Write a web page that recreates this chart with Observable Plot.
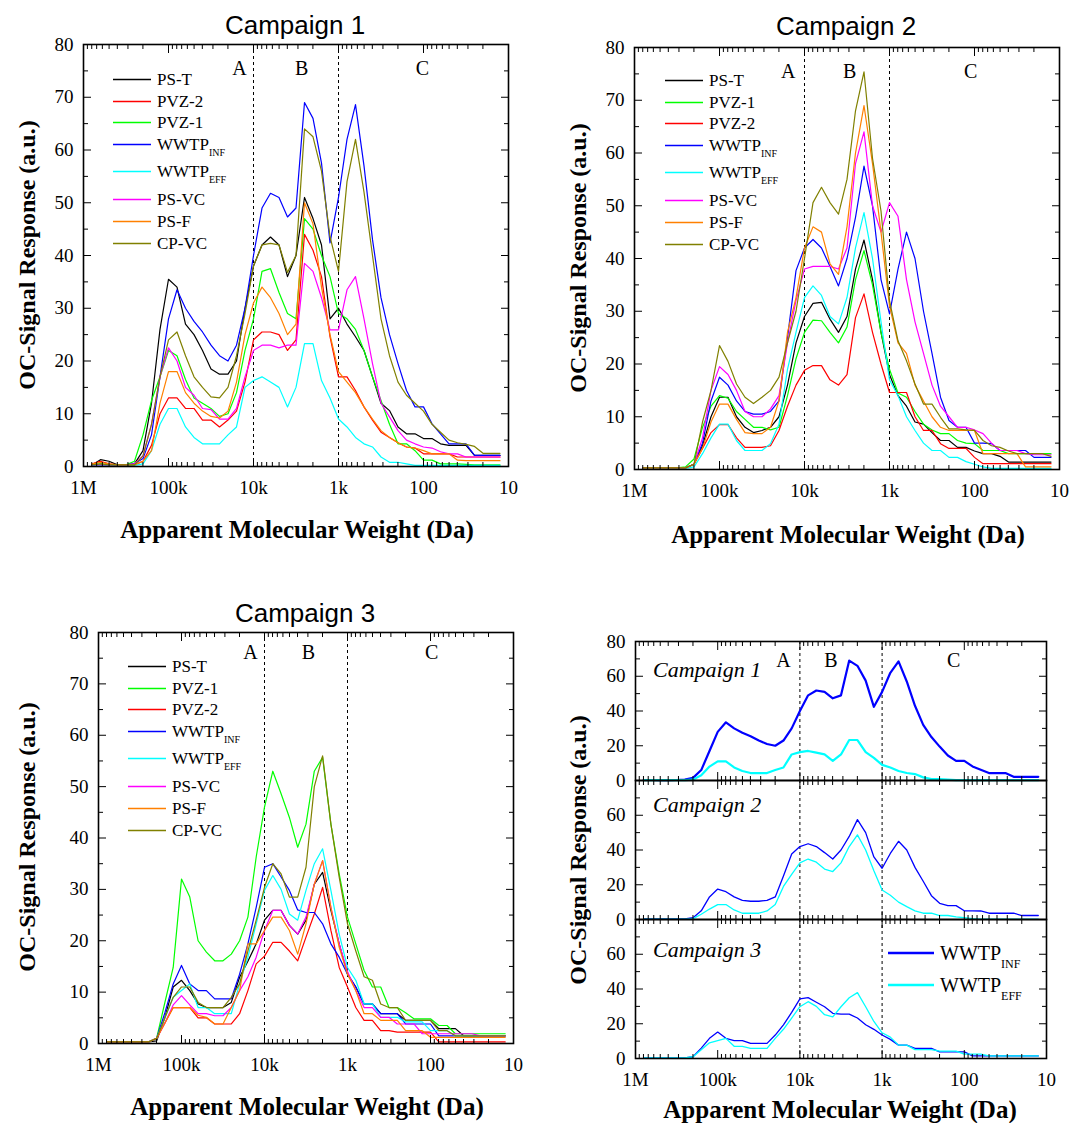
<!DOCTYPE html>
<html><head><meta charset="utf-8">
<script src="https://cdn.jsdelivr.net/npm/d3@7"></script>
<script src="https://cdn.jsdelivr.net/npm/@observablehq/plot@0.6"></script>
<style>
body{margin:0;background:#fff;}
#root{position:relative;width:1073px;height:1123px;overflow:hidden;font-family:"Liberation Serif","Times New Roman",serif;color:#000;background:#fff;}
.abs{position:absolute;}
.ptitle{position:absolute;font-family:"Liberation Sans",Arial,sans-serif;font-size:26px;transform:translate(-50%,-50%);white-space:nowrap;}
.xtitle{position:absolute;font-weight:bold;font-size:25px;transform:translate(-50%,-50%);white-space:nowrap;}
.ytitle{position:absolute;font-weight:bold;font-size:24px;transform:translate(-50%,-50%) rotate(-90deg);white-space:nowrap;}
.lrow{position:absolute;display:flex;align-items:center;white-space:nowrap;transform:translateY(-50%);line-height:1;}
.lrow svg{display:block;}
.sub{position:relative;}
.ital{position:absolute;font-style:italic;font-size:22px;transform:translateY(-50%);white-space:nowrap;}
</style></head><body><div id="root"></div>
<script>
// ---------- sampling grid (log10 of apparent molecular weight, Da) ----------
const logMW = [5.9,5.8,5.7,5.6,5.5,5.4,5.3,5.2,5.1,5.0,4.9,4.8,4.7,4.6,4.5,4.4,4.3,4.2,4.1,4.0,3.9,3.8,3.7,3.6,3.5,3.4,3.3,3.2,3.1,3.0,2.9,2.8,2.7,2.6,2.5,2.4,2.3,2.2,2.1,2.0,1.9,1.8,1.7,1.6,1.5,1.4,1.3,1.2,1.1];

const seriesNames  = ["PS-T","PVZ-2","PVZ-1","WWTP_INF","WWTP_EFF","PS-VC","PS-F","CP-VC"];
const seriesColors = ["#000000","#ff0000","#00ff00","#0000ff","#00ffff","#ff00ff","#ff8000","#808000"];

// ---------- Campaign 1 ----------
const c1_PST  = [0.3,1.3,1.0,0.3,0.3, 0.5,3,12,26,35.5, 34,27,25,22,18.5, 17.5,17.5,20,30,38, 42,43.5,42,36,40, 51,47,42,28,30, 27,24.6,22,17,12, 10.6,7.5,6.2,6.2,5.3, 5.3,4.3,4,4,4, 2.1,2.1,2.1,2.1];
const c1_PVZ2 = [0.5,1.0,0.5,0.3,0.3, 0.3,1,4,10,13, 13,11,11,8.8,8.8, 7.5,8.8,10.5,16,24, 25.5,25.5,25,22,24, 44,41,36,24.6,17, 17,14.4,11.3,8.8,6.5, 5.5,4.5,3.7,3.5,2.4, 2.4,2.4,2.4,1.8,1.8, 1.8,1.8,1.8,1.8];
const c1_PVZ1 = [0.3,0.5,0.3,0.3,0.3, 1,6,12.5,17,22, 21,16.5,13,12,11, 9.5,10,14,22,28, 37,37.5,33,29,28, 47,45,40,36,29, 28,26,22,17,12.5, 8,4.3,4.3,3,1.2, 1.2,0.5,0.5,0.5,0.4, 0.3,0.3,0.3,0.3];
const c1_INF  = [0.3,0.3,0.2,0.2,0.3, 0.5,1.5,6,17,28, 33.5,30,27.5,25.5,23, 21,20,23,30,40, 49,51.8,51,47.3,49, 69,66,57.5,42.4,51, 62,68.6,57,43,32, 25,19.5,14.4,11.3,11.3, 8.1,6.2,4.3,4.3,4.3, 2.1,2.1,2.1,2.1];
const c1_EFF  = [0.2,0.2,0.2,0.2,0.2, 0.2,0.5,3,8,11, 11,7.5,5.5,4.3,4.3, 4.3,6,7.5,15,16.3, 17,16,15,11.3,15, 23.3,23.3,16.3,13,9, 7.5,5.5,4.3,3.7,1.8, 0.8,0.8,0.5,0.2,0.2, 0.2,0.2,0.2,0.2,0.2, 0.2,0.2,0.2,0.2];
const c1_PSVC = [0.3,0.3,0.3,0.3,0.3, 0.5,2,8,17,22.5, 20,15,13.5,11,10.8, 9,9,11,17,22, 23,23,22.5,23,23, 38.5,37,32,25.9,25.9, 33.5,36,28,19.5,12, 9.4,6.8,5,4.3,3.7, 3.5,2.8,2.4,2.4,1.8, 1.8,1.8,1.8,1.8];
const c1_PSF  = [0.5,0.8,0.5,0.3,0.3, 0.3,1,3,12,18, 18,14,12,10.5,9.5, 9.2,10.5,16,25,31, 34,32,29,25,27, 50,46,34,25,18, 16,14,11.3,9,6.8, 5.5,4.5,3.7,3.5,3, 2.4,2.4,2.4,1.2,1.1, 1.1,1.1,1.1,1.1];
const c1_CPVC = [0.3,0.5,0.3,0.3,0.3, 0.3,2,8,17,24, 25.5,21,17,15,13.2, 13,15,21,29,38, 42,42.3,42,36.8,40, 64,62.5,56,43.6,37, 54,62,52,40,28, 21,16,13.5,12,10.5, 8,6.5,5,4.5,4.2, 3.8,2.5,2.5,2.5];

// ---------- Campaign 2 ----------
const c2_PST  = [0.3,0.3,0.3,0.3,0.3, 0.3,1,4.5,10,13.7, 13.7,10,8,7,7.4, 8,10,16,24,29, 31.5,31.7,28.5,26,29, 38,43.5,36,26,18, 14,12,9,8.6,7, 5.5,5.5,4.2,4.2,3.5, 3,3,2.5,1.4,1.4, 1.4,1.4,1.4,1.4];
const c2_PVZ1 = [0.3,0.3,0.3,0.3,0.3, 0.5,2,8,12,14, 13.5,11,9.5,8,8, 7.5,8,14,21,26, 28.3,28.2,26,24,27, 36,41.5,35,26,19, 14.5,13.7,11,8.6,7.5, 6.8,6.8,5.5,5,4.9, 3.6,3.6,3.6,3,3, 3,3,3,3];
const c2_PVZ2 = [0.3,0.3,0.3,0.3,0.3, 0.3,1,4,7,8.5, 8.5,6,4.2,4.2,4.2, 4.5,7.4,12,16,18.8, 19.7,19.7,17,16,18, 28.8,33.3,26,20,14.6, 14.6,14.6,10,7.4,7.4, 4.9,4,4,4,2.3, 1.1,1.1,1.1,1.1,1.1, 1.1,1.1,1.1,1.1];
const c2_INF  = [0.3,0.3,0.3,0.3,0.3, 0.3,1,5,13,17.5, 16,13,11,10.5,10.5, 11,13,25,37.7,42, 43.6,42,38.5,34.8,40, 47.8,57.5,50,36,29.5, 38,45,40,30,22, 13.7,9.3,8,8,5, 5,4.9,3.6,3.6,3.6, 3.6,2.3,2.3,2.3];
const c2_EFF  = [0.2,0.2,0.2,0.2,0.2, 0.2,0.5,3,6,8.6, 8.6,5.5,3.6,3.6,3.6, 4.9,8.6,19,26,32.6, 34.8,33,29,27.6,32.6, 42,48.7,40,28,17, 14,10,7.4,5,3.6, 3.6,2.3,2.3,1.5,1, 0.5,0.2,0.2,0.2,0.2, 0.2,0.2,0.2,0.2];
const c2_PSVC = [0.3,0.3,0.3,0.3,0.3, 0.3,1,6,15,19.5, 18,15,11,10,10, 11.5,14,24,32,38, 38.5,38.5,38.5,38,42, 58,64,50,45,50.6, 48,36,28,22,16, 12,10,8,8,7.5, 6.8,5,3.6,3.6,3.6, 3,2.8,2.8,2.8];
const c2_PSF  = [0.3,0.3,0.3,0.3,0.3, 0.3,1,4,9,12.4, 12.4,9.5,7,6.8,6.8, 8,13,26,32.6,42, 46,45,39,37,46, 60,69,58,45,31, 24,22,16,13,10, 8,7.4,7.4,7.4,7.4, 3,3,3,3,3, 0.5,0.5,0.5,0.5];
const c2_CPVC = [0.3,0.3,0.3,0.3,0.3, 0.3,1,9,15,23.5, 20.5,16.2,13.7,12.5,13.7, 15,17.5,24,30,40, 50.6,53.5,50.6,48.4,55, 68,75.4,59,49,32, 24.4,20.6,16.2,12.4,12.4, 9.9,7.7,7.7,7.5,7.4, 5.5,4.5,4.2,3.5,3, 3,3,3,2.5];

// ---------- Campaign 3 ----------
const c3_PST  = [0.3,0.3,0.3,0.3,0.3, 0.3,0.5,5.1,11,12.3, 10.3,7.7,7,7,7, 8,12.9,16,19.4,24, 25.9,25.9,23,21.3,24, 31,33.3,25.9,19.4,13.5, 11,7.7,7.7,5.8,5.8, 5.8,4.5,4.5,4.5,4.5, 2.9,2.9,2.9,1.5,1.5, 1.5,1.5,1.5,1.5];
const c3_PVZ1 = [0.3,0.3,0.3,0.3,0.3, 0.3,1,8,14.8,32, 28.5,20,17.8,16.1,16.1, 17.4,20,24.6,36.3,46, 53,48.6,44,38.2,42.7, 53,55.7,42.7,33,24.6, 19.4,14.2,11,11,7, 7,6,4.8,4.8,4.8, 3.5,3.5,1.9,1.9,1.9, 1.9,1.9,1.9,1.9];
const c3_PVZ2 = [0.3,0.3,0.3,0.3,0.3, 0.3,1,4,7,7, 7,5,5,3.8,3.8, 3.8,5.8,10.3,15.5,17, 19.7,19.7,18,16.1,20.7, 25.2,30.4,22,14.8,11, 7,4.5,4.5,2.5,2.5, 2.2,2.2,2.2,2.2,2.2, 0.3,0.3,0.3,0.3,0.3, 0.3,0.3,0.3,0.3];
const c3_INF  = [0.3,0.3,0.3,0.3,0.3, 0.3,1,6,11.6,15.2, 11.6,10.3,10.3,8.7,8.7, 8.7,13.5,19.4,26.5,34.3, 35,32.4,29.8,26,25.5, 25.5,23.3,19.4,16.8,13.5, 11,7.7,7.7,5.8,5.8, 5.8,3.8,3.8,3.8,3.8, 1.5,1.5,1.5,1.5,1.5, 1.5,1.5,1.5,1.5];
const c3_EFF  = [0.3,0.3,0.3,0.3,0.3, 0.3,1,5,9,10.3, 11.6,7,7,5.8,5.8, 5.8,11.6,16.8,23.3,29.8, 32.7,30,25.2,24,29.8, 35,37.9,29.8,21.3,14.8, 12.3,7.7,7.7,5.1,5.1, 5.1,4.2,4.2,4.2,2.5, 2.5,2.5,1.5,1.5,1.5, 1.5,1.5,1.5,1.5];
const c3_PSVC = [0.3,0.3,0.3,0.3,0.3, 0.3,1,4,7.5,9.3, 7.5,5.8,5.8,5.4,5.4, 7,10.3,13,16.8,22, 25.9,25.9,23,21.3,24.6, 31,35.6,26.5,19.4,14, 10.3,7,7,5.1,5.1, 3.8,3.8,3.8,1.9,1.9, 1.9,1.9,1.9,1.9,1.9, 1.5,1.5,1.5,1.5];
const c3_PSF  = [0.3,0.3,0.3,0.3,0.3, 0.3,1,4,7,7, 7,5.5,5.1,3.8,3.8, 7,10.3,19.4,19.4,22, 24.6,24.6,22,17.4,23.3, 31,35.6,26.5,18.7,13.5, 10.3,5.8,5.8,4.5,4.5, 4.5,2.5,2.5,2.5,1.2, 1.2,1.2,1.2,1.2,1.2, 1.2,1.2,1.2,1.2];
const c3_CPVC = [0.3,0.3,0.3,0.3,0.3, 0.3,1,5,9,11, 11,8,7,7,7, 9,11.6,18,24,30.4, 35,33,28.5,28.5,34.3, 50,56,42.7,32.4,23.3, 18,13,12.3,7.7,7, 7,4.5,4.5,4.5,4.5, 2.5,2.5,1.5,1.5,1.5, 1.5,1.5,1.5,1.5];

// ---------- axes / annotation values ----------
const xMajor = [1e6, 1e5, 1e4, 1e3, 100, 10];
const xTickLabels = ["1M", "100k", "10k", "1k", "100", "10"];
const xMinor = [];
for (const dec of [1e5, 1e4, 1e3, 100, 10]) for (let k = 2; k <= 9; k++) xMinor.push(k * dec);
const regionBounds = [1e4, 1e3];
const regionLetters = ["A", "B", "C"];
const yMain = [0,10,20,30,40,50,60,70,80];
const yMainMinor = [5,15,25,35,45,55,65,75];
const ySub = [0,20,40,60,80];
const ySubMinor = [10,30,50,70];

const legendOrder1 = ["PS-T","PVZ-2","PVZ-1","WWTP_INF","WWTP_EFF","PS-VC","PS-F","CP-VC"];
const legendOrder23 = ["PS-T","PVZ-1","PVZ-2","WWTP_INF","WWTP_EFF","PS-VC","PS-F","CP-VC"];

const camp1 = {"PS-T": c1_PST, "PVZ-2": c1_PVZ2, "PVZ-1": c1_PVZ1, "WWTP_INF": c1_INF, "WWTP_EFF": c1_EFF, "PS-VC": c1_PSVC, "PS-F": c1_PSF, "CP-VC": c1_CPVC};
const camp2 = {"PS-T": c2_PST, "PVZ-2": c2_PVZ2, "PVZ-1": c2_PVZ1, "WWTP_INF": c2_INF, "WWTP_EFF": c2_EFF, "PS-VC": c2_PSVC, "PS-F": c2_PSF, "CP-VC": c2_CPVC};
const camp3 = {"PS-T": c3_PST, "PVZ-2": c3_PVZ2, "PVZ-1": c3_PVZ1, "WWTP_INF": c3_INF, "WWTP_EFF": c3_EFF, "PS-VC": c3_PSVC, "PS-F": c3_PSF, "CP-VC": c3_CPVC};

const root = document.getElementById("root");

function place(el, left, top) {
  const d = document.createElement("div");
  d.className = "abs";
  d.style.left = left + "px";
  d.style.top = top + "px";
  d.appendChild(el);
  root.appendChild(d);
  return d;
}
function html(cls, text, left, top, extra) {
  const d = document.createElement("div");
  d.className = cls;
  d.innerHTML = text;
  d.style.left = left + "px";
  d.style.top = top + "px";
  if (extra) Object.assign(d.style, extra);
  root.appendChild(d);
  return d;
}

function drawPlot(cfg) {
  const rows = [];
  for (const name of cfg.order) {
    cfg.data[name].forEach((v, i) => rows.push({s: name, mw: Math.pow(10, logMW[i]), v}));
  }
  const marks = [
    Plot.ruleX(regionBounds, {stroke: "#000", strokeWidth: 1, strokeDasharray: "3,3"}),
    Plot.line(rows, {x: "mw", y: "v", z: "s", stroke: "s", strokeWidth: cfg.sw, curve: "linear"}),
    Plot.frame({stroke: "#000", strokeWidth: 1.6}),
    Plot.axisX(xMajor, {anchor: "bottom", tickSize: -8, fill: "none", label: null}),
    Plot.axisX(xMinor, {anchor: "bottom", tickSize: -4, fill: "none", label: null}),
    Plot.axisX(xMajor, {anchor: "top", tickSize: -8, fill: "none", label: null}),
    Plot.axisX(xMinor, {anchor: "top", tickSize: -4, fill: "none", label: null}),
    Plot.axisY(cfg.yMajor, {anchor: "left", tickSize: -8, fill: "none", label: null}),
    Plot.axisY(cfg.yMinor, {anchor: "left", tickSize: -5, fill: "none", label: null}),
    Plot.axisY(cfg.yMajor, {anchor: "right", tickSize: -8, fill: "none", label: null}),
    Plot.axisY(cfg.yMinor, {anchor: "right", tickSize: -5, fill: "none", label: null}),
    Plot.axisY(cfg.yLabels, {anchor: "left", tickSize: 0, tickPadding: 10, fontSize: 19, label: null})
  ];
  if (cfg.xLabels) marks.push(Plot.axisX(xMajor, {anchor: "bottom", tickSize: 0, tickPadding: 14, fontSize: 19, label: null, tickFormat: d => xTickLabels[xMajor.indexOf(d)]}));
  if (cfg.regionX) marks.push(Plot.text(regionLetters, {x: (d, i) => cfg.regionX[i], y: cfg.regionY, text: d => d, fontSize: 20}));
  const svg = Plot.plot({
    width: cfg.width, height: cfg.height,
    marginLeft: cfg.mL, marginRight: cfg.mR, marginTop: cfg.mT, marginBottom: cfg.mB,
    x: {type: "log", domain: [1e6, 10], axis: null, label: null},
    y: {domain: [0, 80], axis: null, label: null},
    color: {domain: seriesNames, range: seriesColors},
    style: {background: "transparent", overflow: "visible", fontFamily: "'Liberation Serif', 'Times New Roman', serif", fontSize: "19px", color: "#000", maxWidth: "none"},
    marks
  });
  place(svg, cfg.left, cfg.top);
}

function labelHTML(name, subSize, subTop) {
  const m = name.split("_");
  return m.length > 1 ? `${m[0]}<span class="sub" style="font-size:${subSize}px;top:${subTop}px">${m[1]}</span>` : name;
}
function addLegend(names, o) {
  names.forEach((name, i) => {
    const color = seriesColors[seriesNames.indexOf(name)];
    const row = document.createElement("div");
    row.className = "lrow";
    row.style.left = o.left + "px";
    row.style.top = (o.top + o.offsets[i]) + "px";
    row.style.fontSize = o.fontSize + "px";
    row.innerHTML = `<svg width="${o.lineLen + o.gap}" height="6"><line x1="0" x2="${o.lineLen}" y1="3" y2="3" stroke="${color}" stroke-width="${o.sw}"/></svg><span>${labelHTML(name, o.subSize, o.subTop)}</span>`;
    root.appendChild(row);
  });
}

const legOffsets = [0,22,43,65,92,120,142,164];

// Panel 1
drawPlot({data: camp1, order: legendOrder1, left: 0, top: 0, width: 536, height: 540, mL: 83, mR: 28, mT: 44, mB: 74,
  yMajor: yMain, yMinor: yMainMinor, yLabels: yMain, xLabels: true, sw: 1.2, regionX: [14600, 2720, 103], regionY: 75.5});
html("ptitle", "Campaign 1", 295, 25);
html("xtitle", "Apparent Molecular Weight (Da)", 297, 530);
html("ytitle", "OC-Signal Response (a.u.)", 27, 255);
addLegend(legendOrder1, {left: 113, top: 79, offsets: legOffsets, fontSize: 17, lineLen: 38, gap: 6, sw: 1.6, subSize: 10, subTop: 6});

// Panel 2
drawPlot({data: camp2, order: legendOrder23, left: 540, top: 0, width: 533, height: 540, mL: 94, mR: 14, mT: 47, mB: 71,
  yMajor: yMain, yMinor: yMainMinor, yLabels: yMain, xLabels: true, sw: 1.2, regionX: [15500, 2950, 111], regionY: 75.5});
html("ptitle", "Campaign 2", 846, 26);
html("xtitle", "Apparent Molecular Weight (Da)", 848, 535);
html("ytitle", "OC-Signal Response (a.u.)", 578, 258);
addLegend(legendOrder23, {left: 665, top: 80, offsets: legOffsets, fontSize: 17, lineLen: 38, gap: 6, sw: 1.6, subSize: 10, subTop: 6});

// Panel 3
drawPlot({data: camp3, order: legendOrder23, left: 0, top: 580, width: 536, height: 543, mL: 98, mR: 23, mT: 52, mB: 80,
  yMajor: yMain, yMinor: yMainMinor, yLabels: yMain, xLabels: true, sw: 1.2, regionX: [14800, 2950, 97], regionY: 76});
html("ptitle", "Campaign 3", 305, 613);
html("xtitle", "Apparent Molecular Weight (Da)", 307, 1107);
html("ytitle", "OC-Signal Response (a.u.)", 27, 837);
addLegend(legendOrder23, {left: 128, top: 666, offsets: legOffsets, fontSize: 17, lineLen: 38, gap: 6, sw: 1.6, subSize: 10, subTop: 6});

// Panel 4 (three stacked sub-panels, WWTP influent/effluent)
const subOrder = ["WWTP_INF", "WWTP_EFF"];
drawPlot({data: camp1, order: subOrder, left: 540, top: 620, width: 533, height: 170, mL: 95, mR: 27, mT: 21, mB: 10,
  yMajor: ySub, yMinor: ySubMinor, yLabels: [0,20,40,60,80], xLabels: false, sw: 2.2, regionX: [15800, 4200, 135], regionY: 69});
drawPlot({data: camp2, order: subOrder, left: 540, top: 770, width: 533, height: 159, mL: 95, mR: 27, mT: 10, mB: 10,
  yMajor: ySub, yMinor: ySubMinor, yLabels: [0,20,40,60], xLabels: false, sw: 1.3});
drawPlot({data: camp3, order: subOrder, left: 540, top: 909, width: 533, height: 204, mL: 95, mR: 27, mT: 10, mB: 55,
  yMajor: ySub, yMinor: ySubMinor, yLabels: [0,20,40,60], xLabels: true, sw: 1.3});
html("ital", "Campaign 1", 653, 670);
html("ital", "Campaign 2", 653, 805);
html("ital", "Campaign 3", 653, 950);
html("xtitle", "Apparent Molecular Weight (Da)", 840, 1110);
html("ytitle", "OC-Signal Response (a.u.)", 578, 850);
addLegend(subOrder, {left: 888, top: 953, offsets: [0, 32], fontSize: 20, lineLen: 46, gap: 6, sw: 2.5, subSize: 12, subTop: 8});
</script>
</body></html>
